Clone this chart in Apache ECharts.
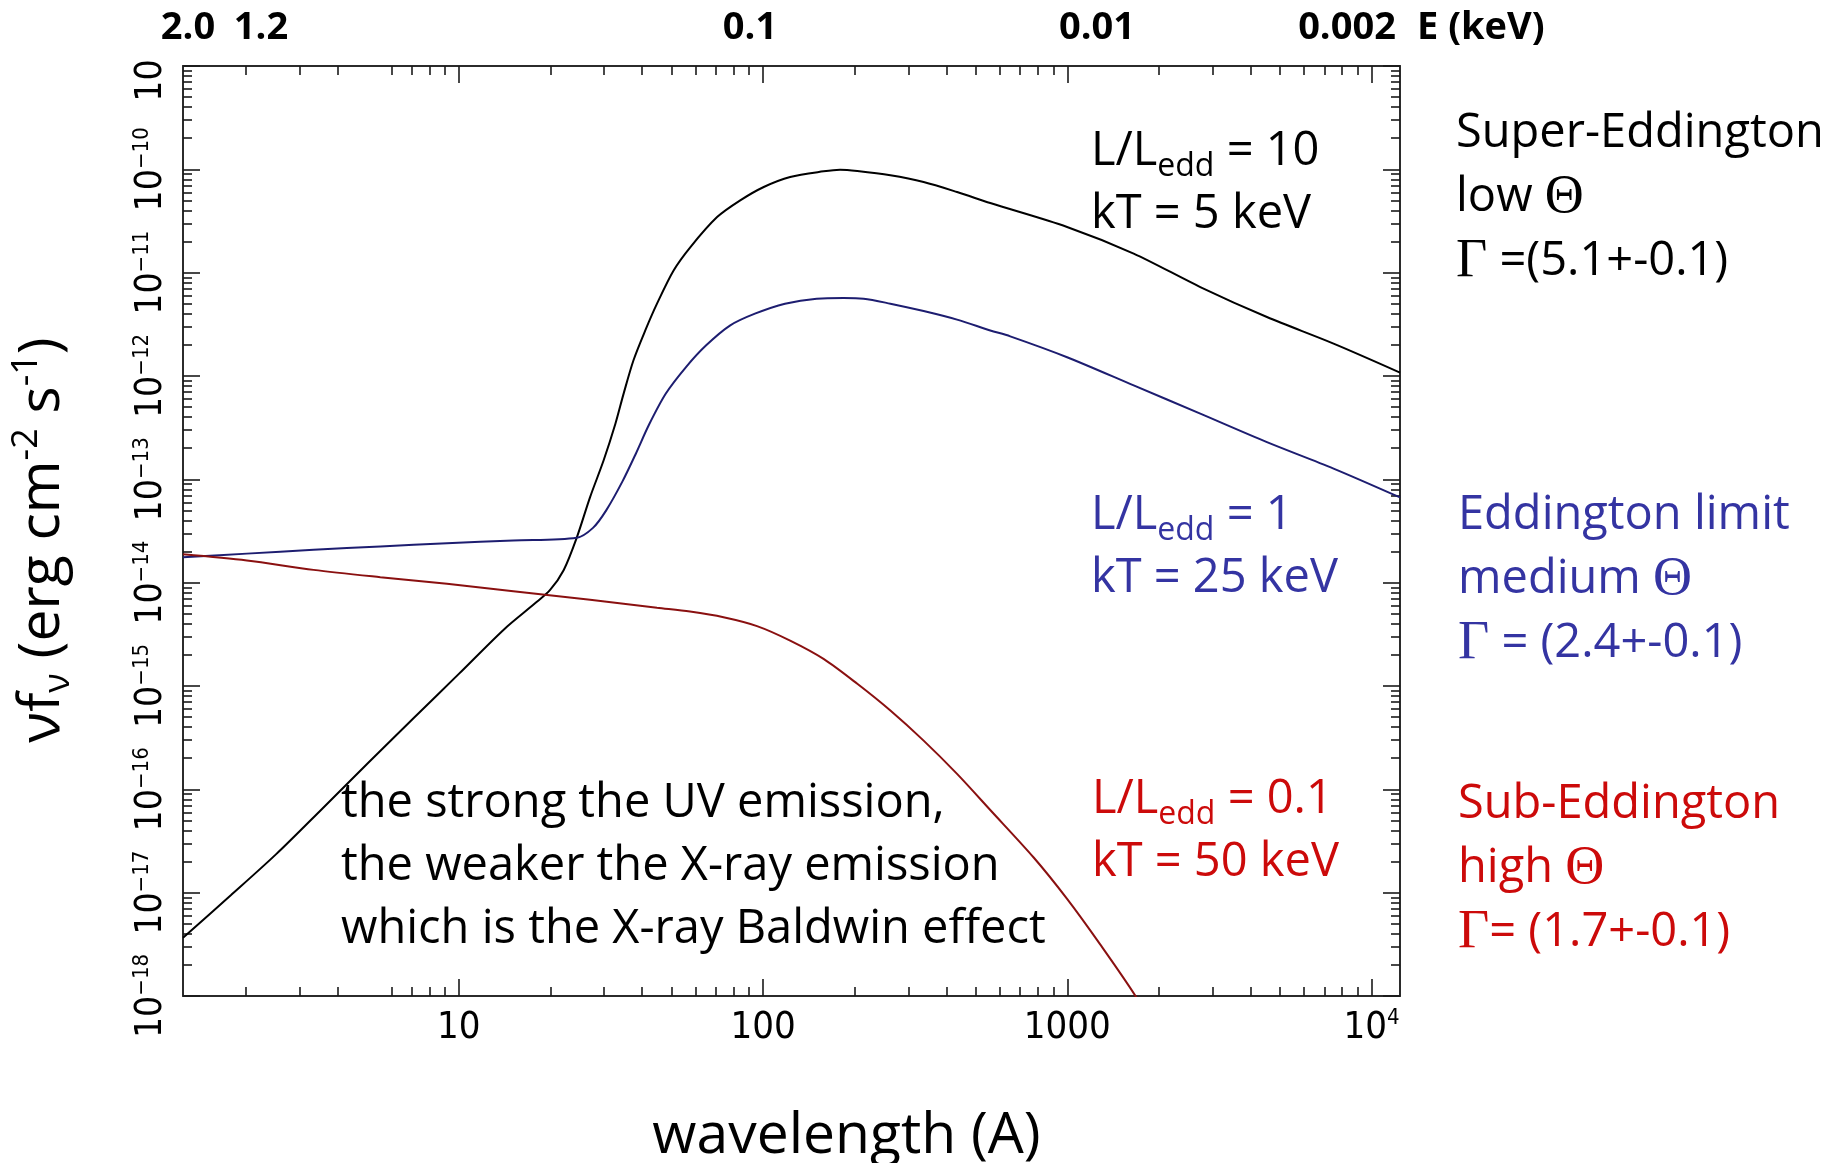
<!DOCTYPE html>
<html>
<head>
<meta charset="utf-8">
<title>Comptonised disc spectra vs. Eddington ratio</title>
<script src="https://cdn.jsdelivr.net/npm/echarts@6/dist/echarts.min.js"></script>
<style>
  html, body { margin: 0; padding: 0; background: #ffffff; }
  #chart { width: 1839px; height: 1163px; }
</style>
</head>
<body>
<div id="chart"></div>
<script>
// Wavelength range in Angstrom (10 keV down to 0.001 keV) and flux range
const lambdaMin = 1.2398;
const lambdaMax = 12398;
const fluxMin = 1e-18;
const fluxMax = 1e-9;

// L/Ledd = 10, kT = 5 keV
const superLambda = [1.24, 1.78, 2.51, 3.55, 5.01, 7.08, 10.0, 14.1, 17.8, 19.95, 22.1, 24.4, 27.0, 29.9,
  32.7, 34.8, 37.5, 41.0, 44.8, 50.8, 57.7, 70.6, 84.1, 100.5, 122.7, 158, 179, 204, 262, 337, 434, 558,
  998, 1652, 2735, 4529, 7499, 12398];
const superFlux = [3.67e-18, 9.44e-18, 2.36e-17, 6.46e-17, 1.78e-16, 4.84e-16, 1.31e-15, 3.55e-15, 6.31e-15,
  8.51e-15, 1.32e-14, 2.72e-14, 6.73e-14, 1.52e-13, 3.45e-13, 6.75e-13, 1.42e-12, 2.76e-12, 5.01e-12,
  1.05e-11, 1.77e-11, 3.45e-11, 5.01e-11, 6.75e-11, 8.43e-11, 9.57e-11, 9.93e-11, 9.64e-11, 8.75e-11,
  7.53e-11, 6.03e-11, 4.72e-11, 2.77e-11, 1.53e-11, 7.26e-12, 3.72e-12, 2.06e-12, 1.08e-12];

// L/Ledd = 1, kT = 25 keV
const eddLambda = [1.24, 2.01, 3.33, 5.52, 9.14, 15.1, 24.4, 27.6, 30.5, 34.5, 38.2, 42.2, 47.9, 55.8,
  65.0, 78.0, 94.0, 118.0, 150, 184, 214, 262, 337, 434, 558, 649, 998, 1652, 2735, 4529, 7499, 12398];
const eddFlux = [1.76e-14, 1.91e-14, 2.08e-14, 2.24e-14, 2.41e-14, 2.56e-14, 2.72e-14, 3.39e-14, 5.01e-14,
  9.55e-14, 1.78e-13, 3.39e-13, 6.76e-13, 1.22e-12, 1.98e-12, 3.09e-12, 4.01e-12, 5.01e-12, 5.6e-12,
  5.68e-12, 5.6e-12, 5.01e-12, 4.25e-12, 3.51e-12, 2.76e-12, 2.42e-12, 1.52e-12, 8.11e-13, 4.32e-13,
  2.29e-13, 1.27e-13, 6.68e-14];

// L/Ledd = 0.1, kT = 50 keV
const subLambda = [1.24, 2.01, 3.33, 5.52, 9.14, 15.1, 27.0, 44.8, 57.5, 74.1, 95.5, 122.7, 158, 204, 262,
  337, 434, 558, 775, 998, 1282, 1675, 2000];
const subFlux = [1.88e-14, 1.64e-14, 1.33e-14, 1.13e-14, 9.75e-15, 8.28e-15, 6.82e-15, 5.71e-15, 5.25e-15,
  4.63e-15, 3.80e-15, 2.75e-15, 1.83e-15, 1.05e-15, 5.79e-16, 2.96e-16, 1.41e-16, 6.31e-17, 2.19e-17,
  8.71e-18, 3.16e-18, 1.0e-18, 4.0e-19];

// Axis ticks
const xMajorTicks = [10, 100, 1000, 10000];
const xMinorTicks = [2, 3, 4, 6, 7, 8, 9,
  20, 30, 40, 50, 60, 70, 80, 90,
  200, 300, 400, 500, 600, 700, 800, 900,
  2000, 3000, 4000, 5000, 6000, 7000, 8000, 9000];
const yMajorTicks = [1e-18, 1e-17, 1e-16, 1e-15, 1e-14, 1e-13, 1e-12, 1e-11, 1e-10, 1e-9];
const yMinorTicks = [];
for (let e = -18; e < -9; e++) {
  for (let m = 2; m <= 9; m++) yMinorTicks.push(m * Math.pow(10, e));
}

// Photon energy marks along the top (keV)
const energyLabels = ['2.0', '1.2', '0.1', '0.01', '0.002'];
const energyCenters = [188, 261, 750, 1097, 1347];

const pairs = (xs, ys) => xs.map((x, i) => [x, ys[i]]);

const tickFont = "'Liberation Sans Narrow', 'DejaVu Sans Condensed', 'Liberation Sans', sans-serif";
const textFont = "'Open Sans', 'Noto Sans', sans-serif";
const serifFont = "'Liberation Serif', 'DejaVu Serif', serif";
const frameColor = '#2b2b2b';
const tickColor = '#1a1a1a';

const blueText = '#3434a2';
const redText = '#cc0a0a';

const gridRect = { left: 183, right: 439, top: 66, bottom: 167, containLabel: false, outerBoundsMode: 'none' };

function tickSet(values, len) {
  return { show: true, inside: true, length: len, customValues: values, lineStyle: { color: tickColor, width: 1.6 } };
}

function xAxisDef(gridIndex, position, ticks, len, withFrame) {
  return {
    type: 'log', logBase: 10, gridIndex, position, min: lambdaMin, max: lambdaMax,
    axisLine: { show: withFrame, onZero: false, lineStyle: { color: frameColor, width: 2 } },
    axisTick: tickSet(ticks, len),
    axisLabel: { show: false },
    splitLine: { show: false }, minorTick: { show: false }, minorSplitLine: { show: false }
  };
}
function yAxisDef(gridIndex, position, ticks, len, withFrame) {
  return {
    type: 'log', logBase: 10, gridIndex, position, min: fluxMin, max: fluxMax,
    axisLine: { show: withFrame, onZero: false, lineStyle: { color: frameColor, width: 2 } },
    axisTick: tickSet(ticks, len),
    axisLabel: { show: false },
    splitLine: { show: false }, minorTick: { show: false }, minorSplitLine: { show: false }
  };
}

const xBottom = xAxisDef(0, 'bottom', xMajorTicks, 17, true);
xBottom.axisLabel = {
  show: true, customValues: xMajorTicks, margin: 11, color: '#000',
  fontFamily: tickFont, fontSize: 38,
  formatter: v => {
    const e = Math.round(Math.log10(v));
    return e < 4 ? '{b|' + Math.round(v) + '}' : '{b|10}{s|' + e + '}';
  },
  rich: {
    b: { fontFamily: tickFont, fontSize: 38, color: '#000', lineHeight: 42 },
    s: { fontFamily: tickFont, fontSize: 22, color: '#000', verticalAlign: 'top', lineHeight: 14 }
  }
};
xBottom.name = 'wavelength (A)';
xBottom.nameLocation = 'middle';
xBottom.nameGap = 112;
xBottom.nameTextStyle = { fontFamily: textFont, fontSize: 57, color: '#000', padding: [0, 0, 0, 110] };

const yLeft = yAxisDef(0, 'left', yMajorTicks, 17, true);
yLeft.axisLabel = {
  show: true, customValues: yMajorTicks, rotate: 90, margin: 12, color: '#000',
  fontFamily: tickFont, fontSize: 37,
  formatter: v => {
    const e = Math.round(Math.log10(v));
    return '{b|10}{' + (e === -9 ? 'h' : 's') + '|\u2212' + (-e) + '}';
  },
  rich: {
    b: { fontFamily: tickFont, fontSize: 37, color: '#000', lineHeight: 40 },
    s: { fontFamily: tickFont, fontSize: 22, color: '#000', verticalAlign: 'top', lineHeight: 12 },
    h: { fontFamily: tickFont, fontSize: 22, color: 'rgba(0,0,0,0)', verticalAlign: 'top', lineHeight: 12 }
  }
};
yLeft.name = '{t|\u03bdf}{sub|\u03bd}{t| (erg cm}{sup|-2}{t| s}{sup|-1}{t|)}';
yLeft.nameLocation = 'middle';
yLeft.nameRotate = 90;
yLeft.nameGap = 106;
yLeft.nameTextStyle = {
  padding: [0, 18, 0, 0],
  rich: {
    t: { fontFamily: textFont, fontSize: 57, color: '#000', lineHeight: 68 },
    sub: { fontFamily: textFont, fontSize: 36, color: '#000', verticalAlign: 'bottom', lineHeight: 22 },
    sup: { fontFamily: textFont, fontSize: 36, color: '#000', verticalAlign: 'top', lineHeight: 16 }
  }
};

function lineSeries(name, xs, ys, color) {
  return {
    type: 'line', name, xAxisIndex: 0, yAxisIndex: 0,
    data: pairs(xs, ys), showSymbol: false, symbol: 'none',
    smooth: 0.3,
    clip: true, silent: true,
    lineStyle: { color, width: 2 }, z: 5
  };
}

// Text blocks placed beside the spectra
function textBlock(x, y, text, color, size, lineHeight) {
  return {
    type: 'text', x, y, z: 20, silent: true,
    style: {
      text, fill: color, fontFamily: textFont, fontSize: size, lineHeight,
      align: 'left', verticalAlign: 'top',
      rich: {
        sub: { fill: color, fontFamily: textFont, fontSize: Math.round(size * 0.68), lineHeight: 18, verticalAlign: 'bottom' },
        g: { fill: color, fontFamily: serifFont, fontSize: Math.round(size * 1.15), lineHeight }
      }
    }
  };
}

const graphics = [];
energyLabels.forEach((t, i) => {
  graphics.push({
    type: 'text', x: energyCenters[i], y: 28, z: 20, silent: true,
    style: { text: t, fill: '#000', fontFamily: textFont, fontWeight: 'bold', fontSize: 38, align: 'center', verticalAlign: 'middle' }
  });
});
graphics.push({
  type: 'text', x: 1417, y: 28, z: 20, silent: true,
  style: { text: 'E (keV)', fill: '#000', fontFamily: textFont, fontWeight: 'bold', fontSize: 38, align: 'left', verticalAlign: 'middle' }
});

const fs = 47;
graphics.push(textBlock(1091, 120, 'L/L{sub|edd} = 10\nkT = 5 keV', '#000', fs, 63));
graphics.push(textBlock(1091, 484, 'L/L{sub|edd} = 1\nkT = 25 keV', blueText, fs, 63));
graphics.push(textBlock(1092, 768, 'L/L{sub|edd} = 0.1\nkT = 50 keV', redText, fs, 63));

graphics.push(textBlock(1456, 102, 'Super-Eddington\nlow {g|\u0398}\n{g|\u0393} =(5.1+-0.1)', '#000', fs, 64));
graphics.push(textBlock(1458, 484, 'Eddington limit\nmedium {g|\u0398}\n{g|\u0393} = (2.4+-0.1)', blueText, fs, 64));
graphics.push(textBlock(1458, 773, 'Sub-Eddington\nhigh {g|\u0398}\n{g|\u0393}= (1.7+-0.1)', redText, fs, 64));

graphics.push(textBlock(341, 772,
  'the strong the UV emission,\nthe weaker the X-ray emission\nwhich is the X-ray Baldwin effect', '#000', fs, 63));

const option = {
  backgroundColor: '#ffffff',
  animation: false,
  grid: [Object.assign({}, gridRect), Object.assign({}, gridRect)],
  xAxis: [
    xBottom,
    xAxisDef(0, 'top', xMajorTicks, 17, true),
    xAxisDef(1, 'bottom', xMinorTicks, 9, false),
    xAxisDef(1, 'top', xMinorTicks, 9, false)
  ],
  yAxis: [
    yLeft,
    yAxisDef(0, 'right', yMajorTicks, 17, true),
    yAxisDef(1, 'left', yMinorTicks, 9, false),
    yAxisDef(1, 'right', yMinorTicks, 9, false)
  ],
  series: [
    lineSeries('L/Ledd = 10', superLambda, superFlux, '#000000'),
    lineSeries('L/Ledd = 1', eddLambda, eddFlux, '#1d1d70'),
    lineSeries('L/Ledd = 0.1', subLambda, subFlux, '#8a1010')
  ],
  graphic: graphics
};

const chart = echarts.init(document.getElementById('chart'), null, { renderer: 'canvas' });
chart.setOption(option);
</script>
</body>
</html>
